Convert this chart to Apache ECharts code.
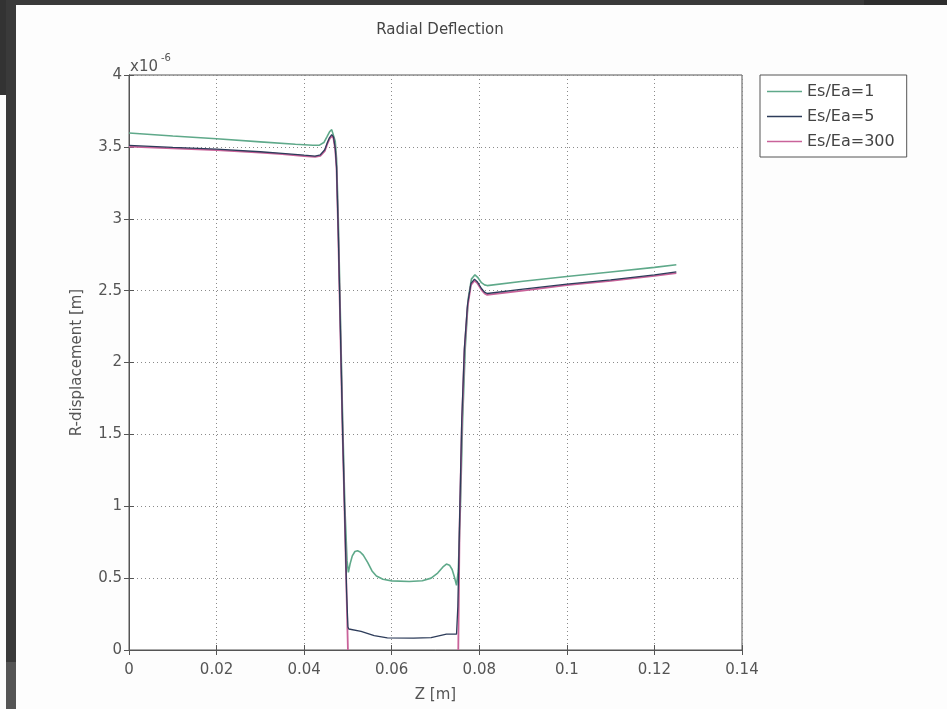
<!DOCTYPE html>
<html>
<head>
<meta charset="utf-8">
<script src="https://cdn.jsdelivr.net/npm/echarts@6/dist/echarts.min.js"></script>
<style>
html,body{margin:0;padding:0;background:#fdfdfd;}
#c{width:947px;height:709px;}
</style>
</head>
<body>
<div id="c"></div>
<script>
// Tick labels
var xTicks = [0, 0.02, 0.04, 0.06, 0.08, 0.1, 0.12, 0.14];
var yTicks = [0, 0.5, 1, 1.5, 2, 2.5, 3, 3.5, 4]; // x10^-6

var seriesNames = ['Es/Ea=1', 'Es/Ea=5', 'Es/Ea=300'];

// Z [m] , R-displacement [x10^-6 m]
var es1 = [
  [0,3.597],[0.01,3.576],[0.02,3.556],[0.03,3.535],[0.038,3.518],[0.042,3.511],[0.0435,3.512],
  [0.0445,3.53],[0.0452,3.57],[0.0458,3.605],[0.0463,3.62],[0.0467,3.61],[0.0471,3.54],[0.0474,3.42],[0.0478,3.0],
  [0.0483,2.3],[0.0488,1.6],[0.0493,1.0],[0.0498,0.62],[0.0501,0.54],[0.0505,0.60],
  [0.0510,0.655],[0.0516,0.685],[0.0522,0.69],[0.0528,0.682],[0.0535,0.66],[0.0545,0.61],[0.0555,0.55],[0.0565,0.515],[0.058,0.492],
  [0.060,0.481],[0.064,0.476],[0.067,0.482],[0.069,0.50],[0.0705,0.535],[0.0717,0.578],[0.0725,0.598],
  [0.0732,0.59],[0.0738,0.56],[0.0743,0.51],[0.0748,0.45],[0.0752,0.55],[0.0757,1.0],[0.0762,1.6],
  [0.0768,2.1],[0.0775,2.45],[0.0782,2.58],[0.079,2.61],[0.0797,2.59],[0.0805,2.555],[0.0812,2.54],
  [0.0818,2.535],[0.09,2.565],[0.10,2.598],[0.11,2.63],[0.12,2.662],[0.125,2.68]
];
var es5 = [
  [0,3.51],[0.01,3.497],[0.02,3.485],[0.03,3.466],[0.035,3.455],[0.040,3.442],[0.0425,3.436],
  [0.0437,3.445],[0.0447,3.48],[0.0453,3.53],[0.0458,3.565],[0.0463,3.585],[0.0467,3.57],[0.0471,3.49],[0.0474,3.36],
  [0.0478,2.9],[0.0483,2.2],[0.0488,1.5],[0.0493,0.9],[0.0497,0.4],[0.0500,0.16],
  [0.0502,0.146],[0.053,0.13],[0.056,0.10],[0.059,0.085],[0.065,0.083],[0.069,0.086],
  [0.071,0.10],[0.0725,0.11],[0.0748,0.11],[0.0751,0.3],[0.0755,0.9],[0.0760,1.6],
  [0.0766,2.1],[0.0773,2.4],[0.0781,2.55],[0.0789,2.58],[0.0796,2.56],[0.0805,2.515],[0.0812,2.49],
  [0.0818,2.48],[0.09,2.51],[0.10,2.545],[0.11,2.575],[0.12,2.61],[0.125,2.63]
];
var es300 = [
  [0,3.502],[0.01,3.49],[0.02,3.478],[0.03,3.46],[0.035,3.449],[0.040,3.435],[0.0425,3.43],
  [0.0437,3.438],[0.0447,3.47],[0.0453,3.52],[0.0458,3.555],[0.0463,3.575],[0.0467,3.56],[0.0471,3.48],[0.0474,3.35],
  [0.0478,2.88],[0.0483,2.18],[0.0488,1.48],[0.0493,0.88],[0.0497,0.38],[0.0500,0.0],
  [0.0626,null],
  [0.0752,0.0],[0.0755,0.85],[0.0760,1.55],[0.0766,2.08],[0.0773,2.38],[0.0781,2.54],
  [0.0789,2.57],[0.0796,2.55],[0.0805,2.505],[0.0812,2.48],[0.0818,2.47],[0.09,2.50],[0.10,2.538],
  [0.11,2.568],[0.12,2.603],[0.125,2.622]
];

var FONT = 'DejaVu Sans';
var TXT = '#555';
var chart = echarts.init(document.getElementById('c'), null, {renderer:'canvas'});

function fmt(v){ return String(+v.toFixed(2)); }

var option = {
  animation: false,
  backgroundColor: '#fdfdfd',
  title: {
    text: 'Radial Deflection',
    left: 435, top: 18, textAlign: 'center',
    textStyle: {fontFamily: FONT, fontSize: 15, fontWeight: 'normal', color: '#444'}
  },
  legend: {
    orient: 'vertical',
    left: 760, top: 75,
    data: seriesNames,
    icon: 'rect',
    itemWidth: 35, itemHeight: 1.5,
    itemGap: 6,
    padding: [7, 12, 6, 7],
    borderColor: '#555', borderWidth: 1,
    backgroundColor: '#fff',
    textStyle: {fontFamily: FONT, fontSize: 16, color: '#444', lineHeight: 19}
  },
  grid: {
    left: 129, top: 75, right: 205, bottom: 59,
    show: true, borderColor: '#555', borderWidth: 1, backgroundColor: '#fff'
  },
  xAxis: [{
    type: 'value', min: xTicks[0], max: xTicks[xTicks.length-1], interval: 0.02,
    name: 'Z [m]', nameLocation: 'middle', nameGap: 38,
    nameTextStyle: {fontFamily: FONT, fontSize: 15, color: TXT},
    axisLine: {show: true, onZero: false, lineStyle: {color: '#555'}},
    axisTick: {show: true, inside: true, length: 5, lineStyle: {color: '#555'}},
    axisLabel: {fontFamily: FONT, fontSize: 15, color: TXT, margin: 13, formatter: fmt},
    splitLine: {show: true, lineStyle: {color: '#8a8a8a', type: [1, 3], width: 1}}
  }, {
    type: 'value', position: 'top', min: xTicks[0], max: xTicks[xTicks.length-1], interval: 0.02,
    axisLine: {show: true, lineStyle: {color: '#555'}},
    axisTick: {show: true, inside: true, length: 5, lineStyle: {color: '#555'}},
    axisLabel: {show: false}, splitLine: {show: false}
  }],
  yAxis: [{
    type: 'value', min: yTicks[0], max: yTicks[yTicks.length-1], interval: 0.5,
    name: 'R-displacement [m]', nameLocation: 'middle', nameGap: 44,
    nameTextStyle: {fontFamily: FONT, fontSize: 15, color: TXT},
    axisLine: {show: true, onZero: false, lineStyle: {color: '#555'}},
    axisTick: {show: true, inside: true, length: 5, lineStyle: {color: '#555'}},
    axisLabel: {fontFamily: FONT, fontSize: 15, color: TXT, margin: 7, formatter: fmt},
    splitLine: {show: true, lineStyle: {color: '#8a8a8a', type: [1, 3], width: 1}}
  }, {
    type: 'value', position: 'right', min: yTicks[0], max: yTicks[yTicks.length-1], interval: 0.5,
    axisLine: {show: true, lineStyle: {color: '#555'}},
    axisTick: {show: true, inside: true, length: 5, lineStyle: {color: '#555'}},
    axisLabel: {show: false}, splitLine: {show: false}
  }],
  series: [{
    name: seriesNames[0], type: 'line', data: es1, showSymbol: false, symbol: 'none',
    lineStyle: {color: '#5fa98a', width: 1.6}, itemStyle: {color: '#5fa98a'}, z: 2
  }, {
    name: seriesNames[2], type: 'line', data: es300, showSymbol: false, symbol: 'none',
    connectNulls: false,
    lineStyle: {color: '#c9639a', width: 1.8}, itemStyle: {color: '#c9639a'}, z: 3
  }, {
    name: seriesNames[1], type: 'line', data: es5, showSymbol: false, symbol: 'none',
    lineStyle: {color: '#2d3c5a', width: 1.3}, itemStyle: {color: '#2d3c5a'}, z: 4
  }],
  graphic: [
    {type: 'rect', silent: true, shape: {x: 0, y: 0, width: 947, height: 5}, style: {fill: '#3a3a3a'}},
    {type: 'rect', silent: true, shape: {x: 864, y: 0, width: 83, height: 5}, style: {fill: '#2e2e2e'}},
    {type: 'rect', silent: true, shape: {x: 0, y: 0, width: 6, height: 95}, style: {fill: '#333'}},
    {type: 'rect', silent: true, shape: {x: 6, y: 0, width: 10, height: 709}, style: {fill: '#3a3a3a'}},
    {type: 'rect', silent: true, shape: {x: 6, y: 662, width: 10, height: 47}, style: {fill: '#555'}},
    {type: 'text', silent: true, left: 130, top: 60, style: {text: 'x10', font: '15px "DejaVu Sans"', fill: TXT}},
    {type: 'text', silent: true, left: 161, top: 53, style: {text: '-6', font: '10px "DejaVu Sans"', fill: TXT}}
  ]
};
chart.setOption(option);
</script>
</body>
</html>
